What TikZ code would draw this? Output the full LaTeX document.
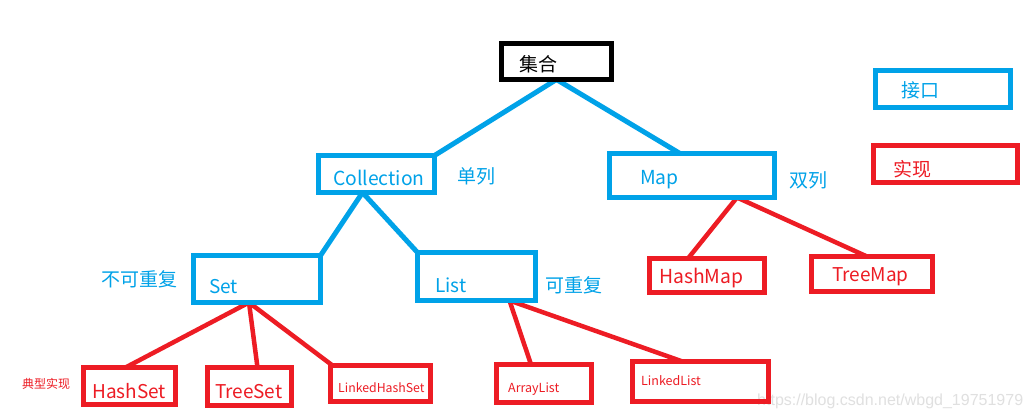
\documentclass[tikz,border=0pt]{standalone}
\usepackage{fontspec}
\setmainfont{Noto Sans CJK SC}
\newfontfamily\wmfont{Liberation Sans}
\usetikzlibrary{backgrounds}
\definecolor{pblue}{RGB}{0,162,232}
\definecolor{pred}{RGB}{237,28,36}
\newcommand\fsz[1]{\fontsize{#1}{#1}\selectfont}
\begin{document}
\begin{tikzpicture}[x=1pt,y=-1pt,
  bx/.style n args={2}{draw,line width=5pt,inner sep=0pt,outer sep=0pt,minimum width=#1pt,minimum height=#2pt},
  bbox/.style n args={2}{bx={#1}{#2},draw=pblue},
  rbox/.style n args={2}{bx={#1}{#2},draw=pred},
  kbox/.style n args={2}{bx={#1}{#2},draw=black},
  lat/.style={inner sep=0pt,anchor=base west},
  cjk/.style={inner sep=0pt,anchor=west},
  bt/.style={text=pblue},
  rt/.style={text=pred},
  conb/.style={draw=pblue,line width=5pt},
  conr/.style={draw=pred,line width=4.5pt}]
\useasboundingbox (0,0) rectangle (1031,418);

% watermark
\node[lat,font=\wmfont\fsz{16},text=black!12] (wm) at (757,405) {https://blog.csdn.net/wbgd\_19751979};

% boxes
\node[kbox={110}{36}] (jh) at (556.5,61.5) {};
\node[bbox={116}{37}] (coll) at (376.5,174) {};
\node[bbox={165}{44}] (map) at (692,175.5) {};
\node[bbox={135}{37}] (jk) at (943,89) {};
\node[rbox={144}{37}] (sx) at (945.5,164) {};
\node[bbox={127}{47}] (set) at (257,279) {};
\node[bbox={118}{48}] (list) at (476.5,276.5) {};
\node[rbox={115}{34}] (hm) at (707,275.5) {};
\node[rbox={121}{35}] (tm) at (872,274) {};
\node[rbox={92}{37}] (hs) at (129.5,386) {};
\node[rbox={84}{38}] (ts) at (249.5,386.5) {};
\node[rbox={100}{36}] (lhs) at (380.5,383.5) {};
\node[rbox={95}{38}] (al) at (544,383.5) {};
\node[rbox={136}{40}] (ll) at (700.5,381.5) {};

% texts
\node[cjk,font=\fsz{19}] (tjh) at (519,64) {集合};
\node[lat,bt,font=\fsz{19.3}] (tcoll) at (333,185) {Collection};
\node[cjk,bt,font=\fsz{19}] (tdl) at (457,176) {单列};
\node[lat,bt,font=\fsz{19.3}] (tmap) at (640,184) {Map};
\node[cjk,bt,font=\fsz{19}] (tsl) at (789,180) {双列};
\node[cjk,bt,font=\fsz{19}] (tjk) at (901,90.5) {接口};
\node[cjk,rt,font=\fsz{19}] (tsx) at (893,169.5) {实现};
\node[cjk,bt,font=\fsz{19}] (tbk) at (101,279.5) {不可重复};
\node[lat,bt,font=\fsz{19}] (tset) at (209,293) {Set};
\node[lat,bt,font=\fsz{19}] (tlist) at (435,292) {List};
\node[cjk,bt,font=\fsz{19}] (tkc) at (545,285) {可重复};
\node[lat,rt,font=\fsz{19.3}] (thm) at (659,283) {HashMap};
\node[lat,rt,font=\fsz{19}] (ttm) at (832,281) {TreeMap};
\node[cjk,rt,font=\fsz{12}] (tdx) at (22,383.5) {典型实现};
\node[lat,rt,font=\fsz{19}] (ths) at (92,398) {HashSet};
\node[lat,rt,font=\fsz{19}] (tts) at (215,398) {TreeSet};
\node[lat,rt,font=\fsz{12.3}] (tlhs) at (338,392) {LinkedHashSet};
\node[lat,rt,font=\fsz{12.5}] (tal) at (508,392) {ArrayList};
\node[lat,rt,font=\fsz{12.5}] (tll) at (641,385) {LinkedList};

% connectors
\begin{scope}[on background layer]
\fill[white] (0,0) rectangle (1031,418);
\draw[conb] (jh.south) -- (coll.north east);
\draw[conb] (jh.south) -- ([xshift=-12pt]map.north);
\draw[conb] ([xshift=-14pt]coll.south) -- (set.north east);
\draw[conb] ([xshift=-14pt]coll.south) -- (list.north west);
\draw[conr] ([xshift=45pt]map.south) -- ([xshift=-19pt]hm.north);
\draw[conr] ([xshift=45pt]map.south) -- ([xshift=-5pt]tm.north);
\draw[conr] ([xshift=-8pt]set.south) -- ([xshift=-4pt]hs.north);
\draw[conr] ([xshift=-8pt]set.south) -- ([xshift=8pt]ts.north);
\draw[conr] ([xshift=-8pt]set.south) -- ([xshift=2pt]lhs.north west);
\draw[conr] ([xshift=33pt]list.south) -- ([xshift=-13pt]al.north);
\draw[conr] ([xshift=33pt]list.south) -- ([xshift=-18pt]ll.north);
\end{scope}
\end{tikzpicture}
\end{document}
